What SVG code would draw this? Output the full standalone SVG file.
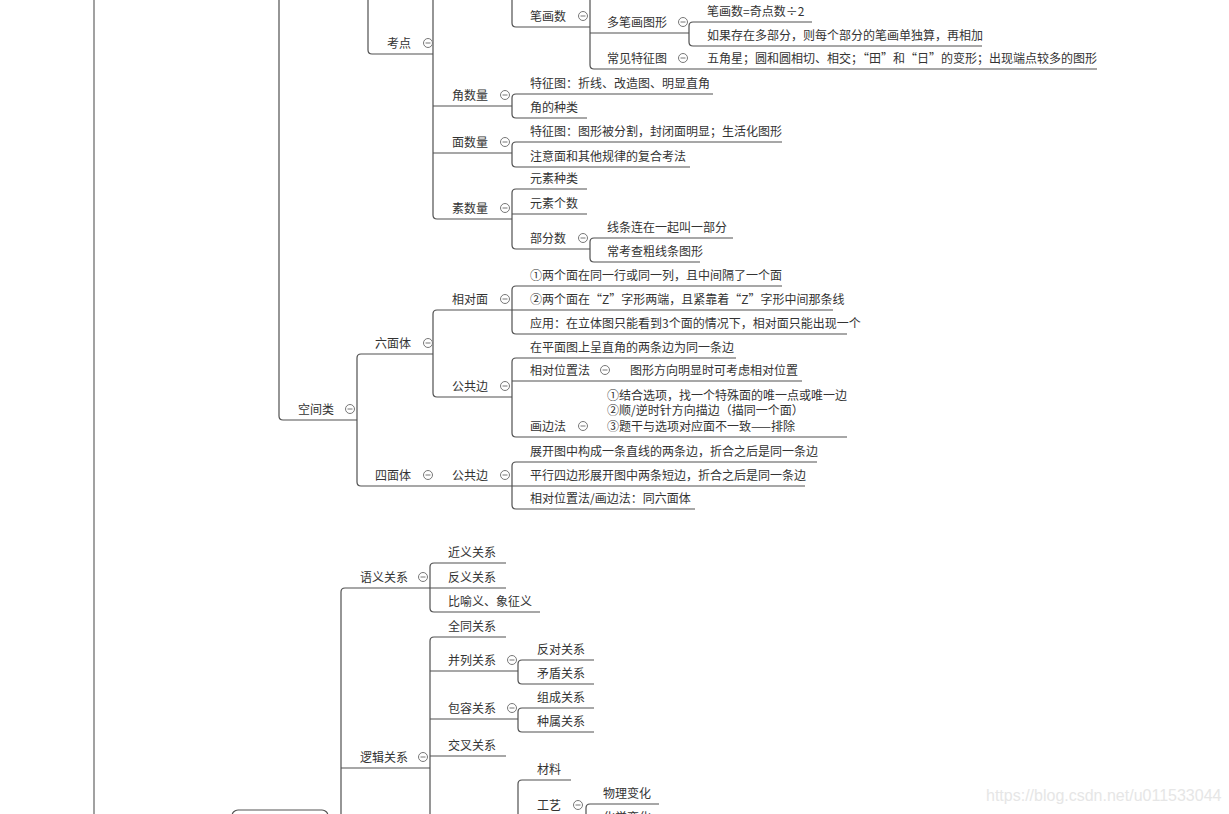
<svg xmlns="http://www.w3.org/2000/svg" xmlns:xlink="http://www.w3.org/1999/xlink" width="1229" height="814" viewBox="0 0 1229 814">
<style>
  text { font-family: "Noto Sans CJK SC", "Noto Sans", sans-serif; font-size: 12px; fill: #333; }
  .ln { fill: none; stroke: #505050; stroke-width: 1.2; }
  .axis { fill: none; stroke: #8a8a8a; stroke-width: 1.6; }
  .wm { font-family: "Liberation Sans", Arial, sans-serif; font-size: 16px; fill: #e6e6e6; }
</style>
<defs>
  <g id="minus">
    <circle cx="0" cy="0" r="4.5" fill="#fff" stroke="#777" stroke-width="1"/>
    <line x1="-2.5" y1="0" x2="2.5" y2="0" stroke="#777" stroke-width="1"/>
  </g>
</defs>
<rect width="1229" height="814" fill="#fff"/>

<g id="connectors">
  <path class="axis" d="M94,0 V814"/>
  <path class="ln" d="M279,0 V416 Q279,420 283,420 H357"/>
  <path class="ln" d="M368,0 V50 Q368,54 372,54 H433"/>
  <path class="ln" d="M433,0 V215 Q433,219 437,219 H512"/>
  <path class="ln" d="M433,106 H512 M433,153 H512"/>
  <path class="ln" d="M512,0 V23 Q512,27 516,27 H590"/>
  <path class="ln" d="M590,0 V65 Q590,69 594,69 H1097"/>
  <path class="ln" d="M590,33 H689"/>
  <path class="ln" d="M812,22 H693 Q689,22 689,26 V42 Q689,46 693,46 H982"/>
  <path class="ln" d="M713,94 H516 Q512,94 512,98 V114 Q512,118 516,118 H587"/>
  <path class="ln" d="M782,142 H516 Q512,142 512,146 V163 Q512,167 516,167 H690"/>
  <path class="ln" d="M587,189 H516 Q512,189 512,193 V245 Q512,249 516,249 H590"/>
  <path class="ln" d="M512,214 H587"/>
  <path class="ln" d="M733,238 H594 Q590,238 590,242 V258 Q590,262 594,262 H700"/>
  <path class="ln" d="M433,354 H361 Q357,354 357,358 V482 Q357,486 361,486 H805"/>
  <path class="ln" d="M512,310 H437 Q433,310 433,314 V393 Q433,397 437,397 H512"/>
  <path class="ln" d="M782,286 H516 Q512,286 512,290 V330 Q512,334 516,334 H847"/>
  <path class="ln" d="M512,310 H833"/>
  <path class="ln" d="M736,358 H516 Q512,358 512,362 V433 Q512,437 516,437 H847"/>
  <path class="ln" d="M512,381 H802"/>
  <path class="ln" d="M817,462 H516 Q512,462 512,466 V505 Q512,509 516,509 H695"/>
  <path class="ln" d="M430,588 H345 Q341,588 341,592 V814"/>
  <path class="ln" d="M341,768 H430"/>
  <path class="ln" d="M506,563 H434 Q430,563 430,567 V608 Q430,612 434,612 H540"/>
  <path class="ln" d="M430,588 H506"/>
  <path class="ln" d="M506,637 H434 Q430,637 430,641 V814"/>
  <path class="ln" d="M430,671 H518 M430,719 H518 M430,756 H506"/>
  <path class="ln" d="M594,660 H522 Q518,660 518,664 V680 Q518,684 522,684 H594"/>
  <path class="ln" d="M594,708 H522 Q518,708 518,712 V728 Q518,732 522,732 H594"/>
  <path class="ln" d="M571,780 H522 Q518,780 518,784 V814"/>
  <path class="ln" d="M659,804 H590 Q586,804 586,808 V814"/>
</g>

<g id="n-bottom-box"><rect x="232" y="810" width="96" height="40" rx="6" fill="#fff" stroke="#555" stroke-width="1.2"/></g>

<g id="n-bihuashu"><text x="530" y="21">笔画数</text><use xlink:href="#minus" x="583" y="16"/></g>
<g id="n-duobihua"><text x="607" y="27">多笔画图形</text><use xlink:href="#minus" x="683" y="22"/></g>
<g id="n-bihuashu-formula"><text x="707" y="16">笔画数=奇点数÷2</text></g>
<g id="n-duobufen"><text x="707" y="40">如果存在多部分，则每个部分的笔画单独算，再相加</text></g>
<g id="n-changjian"><text x="607" y="63">常见特征图</text><use xlink:href="#minus" x="683" y="58"/></g>
<g id="n-wujiaoxing"><text x="707" y="63">五角星；圆和圆相切、相交；“田”和“日”的变形；出现端点较多的图形</text></g>

<g id="n-kaodian"><text x="387" y="48">考点</text><use xlink:href="#minus" x="428" y="43"/></g>
<g id="n-jiaoshuliang"><text x="452" y="100">角数量</text><use xlink:href="#minus" x="505" y="95"/></g>
<g id="n-jiao-tezheng"><text x="530" y="88">特征图：折线、改造图、明显直角</text></g>
<g id="n-jiao-zhonglei"><text x="530" y="112">角的种类</text></g>
<g id="n-mianshuliang"><text x="452" y="147">面数量</text><use xlink:href="#minus" x="505" y="142"/></g>
<g id="n-mian-tezheng"><text x="530" y="136">特征图：图形被分割，封闭面明显；生活化图形</text></g>
<g id="n-mian-fuhe"><text x="530" y="161">注意面和其他规律的复合考法</text></g>
<g id="n-sushuliang"><text x="452" y="213">素数量</text><use xlink:href="#minus" x="505" y="208"/></g>
<g id="n-yuansu-zhonglei"><text x="530" y="183">元素种类</text></g>
<g id="n-yuansu-geshu"><text x="530" y="208">元素个数</text></g>
<g id="n-bufenshu"><text x="530" y="243">部分数</text><use xlink:href="#minus" x="583" y="238"/></g>
<g id="n-xiantiao"><text x="607" y="232">线条连在一起叫一部分</text></g>
<g id="n-cuxiantiao"><text x="607" y="256">常考查粗线条图形</text></g>

<g id="n-kongjianlei"><text x="298" y="414">空间类</text><use xlink:href="#minus" x="350" y="409"/></g>
<g id="n-liumianti"><text x="375" y="348">六面体</text><use xlink:href="#minus" x="428" y="343"/></g>
<g id="n-xiangduimian"><text x="452" y="304">相对面</text><use xlink:href="#minus" x="505" y="299"/></g>
<g id="n-xdm-1"><text x="530" y="280">①两个面在同一行或同一列，且中间隔了一个面</text></g>
<g id="n-xdm-2"><text x="530" y="304">②两个面在“Z”字形两端，且紧靠着“Z”字形中间那条线</text></g>
<g id="n-xdm-3"><text x="530" y="328">应用：在立体图只能看到3个面的情况下，相对面只能出现一个</text></g>
<g id="n-gonggongbian-6"><text x="452" y="391">公共边</text><use xlink:href="#minus" x="505" y="386"/></g>
<g id="n-zhijiao"><text x="530" y="352">在平面图上呈直角的两条边为同一条边</text></g>
<g id="n-xiangduiweizhi"><text x="530" y="375">相对位置法</text><use xlink:href="#minus" x="605" y="370"/></g>
<g id="n-fangxiang"><text x="630" y="375">图形方向明显时可考虑相对位置</text></g>
<g id="n-huabianfa"><text x="530" y="431">画边法</text><use xlink:href="#minus" x="583" y="426"/></g>
<g id="n-huabian-detail"><text x="607" y="400">①结合选项，找一个特殊面的唯一点或唯一边<tspan x="607" y="415">②顺/逆时针方向描边（描同一个面）</tspan><tspan x="607" y="431">③题干与选项对应面不一致——排除</tspan></text></g>
<g id="n-simianti"><text x="375" y="480">四面体</text><use xlink:href="#minus" x="428" y="475"/></g>
<g id="n-gonggongbian-4"><text x="452" y="480">公共边</text><use xlink:href="#minus" x="505" y="475"/></g>
<g id="n-zhixian"><text x="530" y="456">展开图中构成一条直线的两条边，折合之后是同一条边</text></g>
<g id="n-pingxing"><text x="530" y="480">平行四边形展开图中两条短边，折合之后是同一条边</text></g>
<g id="n-tong6"><text x="530" y="503">相对位置法/画边法：同六面体</text></g>

<g id="n-yuyi"><text x="360" y="582">语义关系</text><use xlink:href="#minus" x="423" y="577"/></g>
<g id="n-jinyi"><text x="448" y="557">近义关系</text></g>
<g id="n-fanyi"><text x="448" y="582">反义关系</text></g>
<g id="n-biyu"><text x="448" y="606">比喻义、象征义</text></g>
<g id="n-luoji"><text x="360" y="762">逻辑关系</text><use xlink:href="#minus" x="423" y="757"/></g>
<g id="n-quantong"><text x="448" y="631">全同关系</text></g>
<g id="n-binglie"><text x="448" y="665">并列关系</text><use xlink:href="#minus" x="512" y="660"/></g>
<g id="n-fandui"><text x="537" y="654">反对关系</text></g>
<g id="n-maodun"><text x="537" y="678">矛盾关系</text></g>
<g id="n-baorong"><text x="448" y="713">包容关系</text><use xlink:href="#minus" x="512" y="708"/></g>
<g id="n-zucheng"><text x="537" y="702">组成关系</text></g>
<g id="n-zhongshu"><text x="537" y="726">种属关系</text></g>
<g id="n-jiaocha"><text x="448" y="750">交叉关系</text></g>
<g id="n-cailiao"><text x="537" y="774">材料</text></g>
<g id="n-gongyi"><text x="537" y="810">工艺</text><use xlink:href="#minus" x="578" y="805"/></g>
<g id="n-wuli"><text x="603" y="798">物理变化</text></g>
<g id="n-huaxue"><text x="603" y="822">化学变化</text></g>

<text class="wm" x="986" y="801">https://blog.csdn.net/u011533044</text>
</svg>
